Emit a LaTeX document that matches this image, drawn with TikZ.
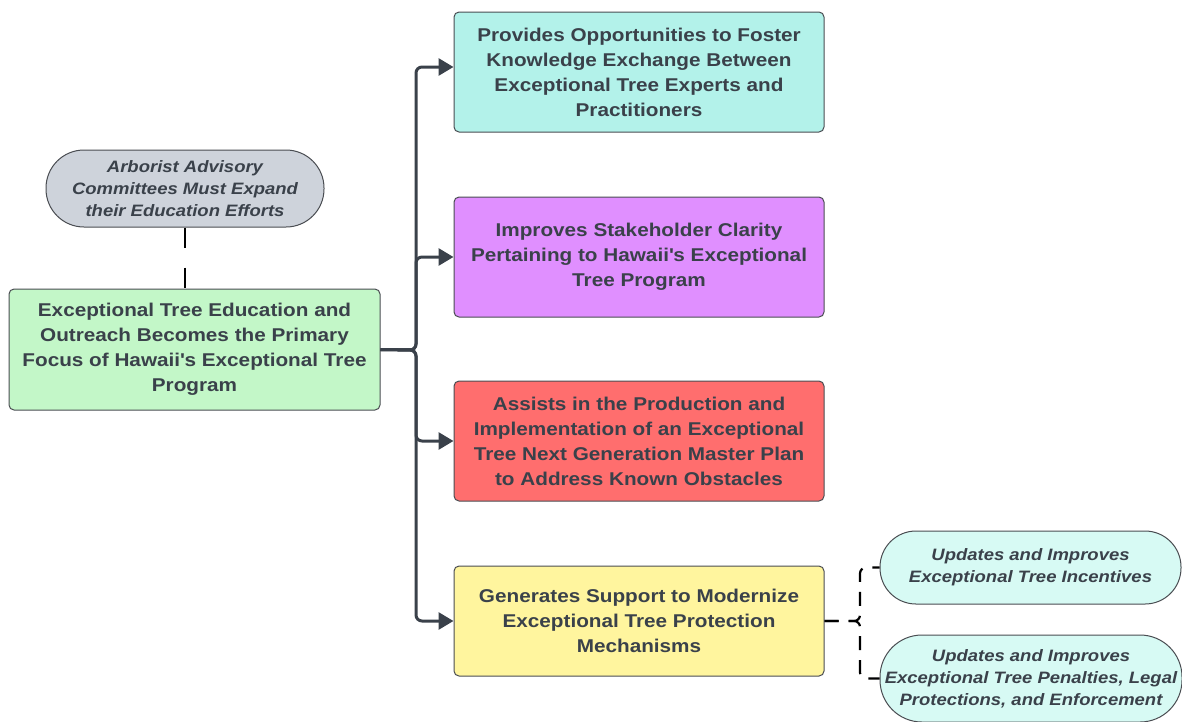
\documentclass[tikz,border=0pt]{standalone}
\usepackage{fontspec}
\setmainfont{Liberation Sans}[FakeStretch=1.12]
\usetikzlibrary{arrows.meta}

\definecolor{textgrey}{HTML}{3A414A}
\definecolor{linkgrey}{HTML}{3A414A}
\definecolor{edgegrey}{HTML}{4A4D52}
\definecolor{cyanfill}{HTML}{B3F2EA}
\definecolor{purplefill}{HTML}{E08FFF}
\definecolor{redfill}{HTML}{FF6E6E}
\definecolor{yellowfill}{HTML}{FFF59E}
\definecolor{greenfill}{HTML}{C3F7C8}
\definecolor{greyfill}{HTML}{CED3DB}
\definecolor{mintfill}{HTML}{D7FAF4}

\begin{document}
\begin{tikzpicture}[x=1pt, y=-1pt,
  box/.style={draw=edgegrey, line width=1pt, rounded corners=5pt, minimum width=370pt, minimum height=120pt, align=center, text=textgrey, font=\fontsize{18.5}{25}\selectfont\bfseries},
  pill/.style={draw=edgegrey, line width=1pt, align=center, text=textgrey, font=\fontsize{16.5}{22}\selectfont\bfseries\itshape},
  link/.style={draw=linkgrey, line width=3pt, rounded corners=6pt},
  dashlink/.style={draw=black, line width=2.2pt, rounded corners=6pt}
]
\useasboundingbox (0,0) rectangle (1182,721);

% main box and its note
\node[box, fill=greenfill, minimum width=371pt, minimum height=121pt] (focus) at (194.5, 349.5) {Exceptional Tree Education and\\Outreach Becomes the Primary\\Focus of Hawaii\textquotesingle s Exceptional Tree\\Program};
\node[pill, fill=greyfill, minimum width=278pt, minimum height=77pt, rounded corners=38pt] (arborist) at (185, 188.5) {Arborist Advisory\\Committees Must Expand\\their Education Efforts};

% outcomes
\node[box, fill=cyanfill] (exchange) at (639, 72) {Provides Opportunities to Foster\\Knowledge Exchange Between\\Exceptional Tree Experts and\\Practitioners};
\node[box, fill=purplefill] (clarity) at (639, 257) {Improves Stakeholder Clarity\\Pertaining to Hawaii\textquotesingle s Exceptional\\Tree Program};
\node[box, fill=redfill] (masterplan) at (639, 441) {Assists in the Production and\\Implementation of an Exceptional\\Tree Next Generation Master Plan\\to Address Known Obstacles};
\node[box, fill=yellowfill, minimum height=110pt] (support) at (639, 621) {Generates Support to Modernize\\Exceptional Tree Protection\\Mechanisms};

% sub outcomes
\node[pill, fill=mintfill, minimum width=301pt, minimum height=73pt, rounded corners=36pt] (incentives) at (1030.5, 567.5) {Updates and Improves\\Exceptional Tree Incentives};
\node[pill, fill=mintfill, minimum width=302pt, minimum height=87pt, rounded corners=42pt] (penalties) at (1031, 678.5) {Updates and Improves\\Exceptional Tree Penalties, Legal\\Protections, and Enforcement};

\coordinate (trunk) at (416, 350);
\coordinate (fork) at (860, 621);

% connectors
\draw[link, -{Triangle[length=15pt, width=17pt]}] (focus.east) -- (trunk) |- ([yshift=5pt]exchange.west);
\draw[link, -{Triangle[length=15pt, width=17pt]}] (focus.east) -- (trunk) |- (clarity.west);
\draw[link, -{Triangle[length=15pt, width=17pt]}] (focus.east) -- (trunk) |- (masterplan.west);
\draw[link, -{Triangle[length=15pt, width=17pt]}] (focus.east) -- (trunk) |- (support.west);

\draw[dashlink, dash pattern=on 20pt off 20pt] (arborist.south) -- (arborist.south |- focus.north);
\draw[dashlink, dash pattern=on 14pt off 10pt] (support.east) -- (fork) |- (incentives.west);
\draw[dashlink, dash pattern=on 14pt off 10pt] (support.east) -- (fork) |- (penalties.west);
\end{tikzpicture}
\end{document}
